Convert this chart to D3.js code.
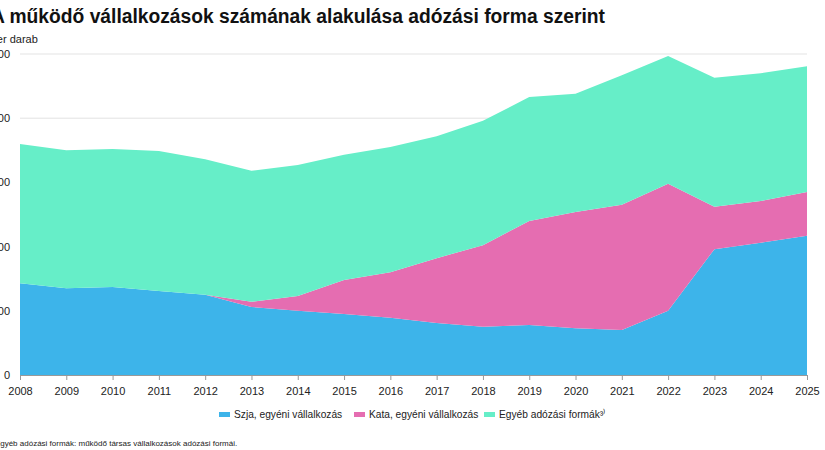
<!DOCTYPE html>
<html><head><meta charset="utf-8">
<script src="https://cdn.jsdelivr.net/npm/d3@7"></script>
<style>body{margin:0;background:#fff}svg{font-family:"Liberation Sans",Arial,sans-serif}</style>
</head><body><div id="container"></div>
<script>
const years = [2008,2009,2010,2011,2012,2013,2014,2015,2016,2017,2018,2019,2020,2021,2022,2023,2024,2025];
const szja  = [143,135,137,131,125,106,100,95,89,81,75,78,73,70,100,196,206,217];
const kata  = [0,0,0,0,0,8,23,53,71,101,127,162,181,195,198,66,65,68];
const total = [360,350,352,349,336,318,327,343,355,372,396,433,438,467,497,463,470,481];
const egyeb = total.map((t,i) => t - szja[i] - kata[i]);
const yTicks = [0,100,200,300,400,500];
const names = ["Szja, egyéni vállalkozás","Kata, egyéni vállalkozás","Egyéb adózási formák³⁾"];
const colors = ["#3db4ea","#e56db1","#66eec8"];

const viz = d3.select("#container").append("svg").attr("width",825).attr("height",450);

const x = d3.scaleLinear().domain([2008,2025]).range([20,807]);
const y = d3.scaleLinear().domain([0,500]).range([375,54]);

viz.append("text").text("A működő vállalkozások számának alakulása adózási forma szerint")
  .attr("x",-9).attr("y",23).attr("font-size",20).attr("font-weight","bold").attr("fill","#111")
  .attr("textLength",614).attr("lengthAdjust","spacingAndGlyphs");
viz.append("text").text("Ezer darab").attr("x",-16).attr("y",43).attr("font-size",11).attr("fill","#222");

// grid
viz.append("g").selectAll("line").data(yTicks).join("line")
  .attr("x1",20).attr("x2",807).attr("y1",d=>y(d)).attr("y2",d=>y(d))
  .attr("stroke","#e3e3e3");
viz.append("g").selectAll("text").data(yTicks).join("text")
  .text(d=>d).attr("x",10).attr("y",d=>y(d)+4).attr("text-anchor","end")
  .attr("font-size",11).attr("fill","#222");

const rows = years.map((yr,i)=>({yr, s:szja[i], k:kata[i], e:egyeb[i]}));
const stack = d3.stack().keys(["s","k","e"])(rows);
const area = d3.area().x(d=>x(d.data.yr)).y0(d=>y(d[0])).y1(d=>y(d[1]));
viz.append("g").selectAll("path").data(stack).join("path")
  .attr("d",area).attr("fill",(d,i)=>colors[i]);

// x axis
const xa = viz.append("g").attr("transform","translate(0,375)")
  .call(d3.axisBottom(x).tickValues(years).tickFormat(d3.format("d")).tickSize(5));
xa.select(".domain").attr("stroke","#999");
xa.selectAll("line").attr("stroke","#999");
xa.selectAll("text").attr("font-size",11).attr("fill","#222")
  .attr("font-family","Liberation Sans, Arial, sans-serif").attr("dy","1.1em");

// legend
const lx = [219,354,484];
const lg = viz.append("g").selectAll("g").data(names).join("g")
  .attr("transform",(d,i)=>`translate(${lx[i]},418)`);
lg.append("rect").attr("x",0).attr("y",-6).attr("width",11).attr("height",5).attr("fill",(d,i)=>colors[i]);
lg.append("text").text(d=>d).attr("x",15).attr("y",0).attr("font-size",10.2).attr("fill","#222");

viz.append("text").text("³⁾ Egyéb adózási formák: működő társas vállalkozások adózási formái.")
  .attr("x",-12).attr("y",446).attr("font-size",8).attr("fill","#222");
</script></body></html>
